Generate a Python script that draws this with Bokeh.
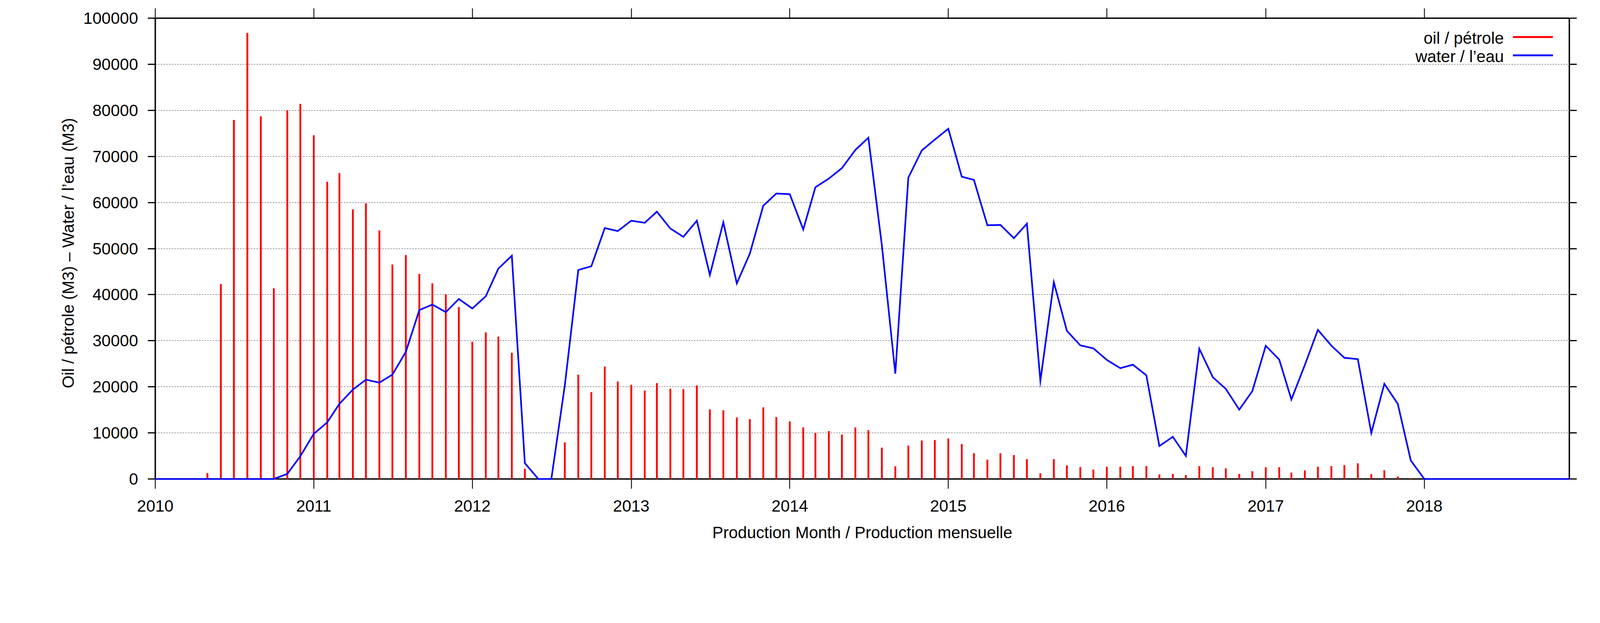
import pandas as pd
from bokeh.plotting import figure
from bokeh.models import (ColumnDataSource, DatetimeAxis, LinearAxis, FixedTicker,
                          DatetimeTickFormatter, NumeralTickFormatter, SingleIntervalTicker,
                          Range1d, Label, BoxAnnotation, CustomJSTickFormatter)
from bokeh.embed import file_html
from bokeh.resources import INLINE

# ---------------- data ----------------
months = list(pd.date_range("2010-01-01", "2018-12-01", freq="MS"))

oil_2010 = [0, 0, 0, 0, 1300, 42300, 77900, 96800, 78700, 41400, 80000, 81400]
oil_2011 = [74600, 64500, 66400, 58500, 59800, 53950, 46550, 48600, 44500, 42450, 40100, 37300]
oil_2012 = [29800, 31800, 30900, 27400, 2200, 0, 0, 7950, 22650, 18850, 24400, 21150]
oil_2013 = [20450, 19200, 20800, 19600, 19500, 20300, 15100, 14900, 13350, 13000, 15550, 13450]
oil_2014 = [12500, 11200, 10000, 10400, 9650, 11200, 10600, 6800, 2750, 7250, 8350, 8450]
oil_2015 = [8800, 7600, 5600, 4200, 5600, 5200, 4300, 1250, 4300, 2950, 2600, 2050]
oil_2016 = [2650, 2650, 2800, 2800, 1000, 1100, 850, 2800, 2550, 2300, 1100, 1700]
oil_2017 = [2550, 2550, 1400, 1850, 2650, 2800, 3000, 3400, 1050, 1900, 550, 150]
oil_2018 = [0, 0, 0, 0, 0, 0, 0, 0, 0, 0, 0, 0]

water_2010 = [0, 0, 0, 0, 0, 0, 0, 0, 0, 0, 1100, 4950]
water_2011 = [9800, 12300, 16300, 19400, 21550, 20900, 22650, 27600, 36650, 37850, 36200, 39050]
water_2012 = [37000, 39650, 45650, 48450, 3450, 0, 0, 20300, 45350, 46150, 54450, 53800]
water_2013 = [56050, 55600, 58000, 54350, 52550, 56050, 44300, 55700, 42450, 48900, 59300, 61950]
water_2014 = [61800, 54150, 63300, 65200, 67450, 71400, 74050, 50750, 22850, 65400, 71300, 73650]
water_2015 = [76000, 65600, 64900, 55050, 55150, 52250, 55400, 21300, 42700, 32150, 29000, 28350]
water_2016 = [25850, 24050, 24800, 22500, 7150, 9150, 5000, 28250, 22100, 19550, 15050, 19050]
water_2017 = [28900, 25900, 17250, 24750, 32350, 28950, 26300, 26000, 10000, 20650, 16300, 4000]
water_2018 = [0, 0, 0, 0, 0, 0, 0, 0, 0, 0, 0, 0]

oil = (oil_2010 + oil_2011 + oil_2012 + oil_2013 + oil_2014 + oil_2015 +
       oil_2016 + oil_2017 + oil_2018)
water = (water_2010 + water_2011 + water_2012 + water_2013 + water_2014 + water_2015 +
         water_2016 + water_2017 + water_2018)

year_ticks = list(range(2010, 2019))
legend_labels = ["oil / pétrole", "water / l\u2019eau"]
x_title = "Production Month / Production mensuelle"
y_title = "Oil / pétrole (M3)  \u2013  Water / l\u2019eau (M3)"

# ---------------- style ----------------
SX = 4096 / 5483    # horizontal CSS px per reference pixel (vertical is 1:1)


def hx(v):
    return int(round(v * SX))


FONT = "Liberation Sans"
FS = "42px"
RED = "#ff0000"
BLUE = "#0000ff"

x_start = pd.Timestamp("2010-01-01")
x_end = pd.Timestamp("2018-12-01")
x0_ms = x_start.value / 1e6
x1_ms = x_end.value / 1e6
y_max = 100000

p = figure(frame_width=hx(4846), frame_height=1179, x_axis_type="datetime",
           x_range=Range1d(x_start, x_end), y_range=Range1d(0, y_max),
           output_backend="svg", toolbar_location=None,
           min_border_left=hx(531.5), min_border_top=46, min_border_right=55,
           min_border_bottom=340,
           background_fill_color="white", border_fill_color="white")
p.outline_line_color = None

year_ms = [pd.Timestamp(f"{y}-01-01").value / 1e6 for y in year_ticks]
yticker = SingleIntervalTicker(interval=10000)

bottom = p.below[0]
left = p.left[0]
bottom.ticker = FixedTicker(ticks=year_ms)
bottom.formatter = DatetimeTickFormatter(days="%Y", months="%Y", years="%Y")
left.ticker = yticker
left.formatter = NumeralTickFormatter(format="0")

top = DatetimeAxis(ticker=FixedTicker(ticks=year_ms),
                   formatter=CustomJSTickFormatter(code="return ''"))
right = LinearAxis(ticker=SingleIntervalTicker(interval=10000),
                   formatter=CustomJSTickFormatter(code="return ''"))
p.add_layout(top, "above")
p.add_layout(right, "right")

for ax in (bottom, left, top, right):
    ax.axis_line_width = 3.6
    ax.axis_line_color = "black"
    ax.major_tick_in = 0
    ax.major_tick_line_color = "black"
    ax.minor_tick_line_color = None
    ax.major_label_text_font = FONT
    ax.major_label_text_color = "black"
    ax.axis_label_text_font = FONT
    ax.axis_label_text_font_size = FS
    ax.axis_label_text_font_style = "normal"
    ax.axis_label_text_color = "black"

for ax in (bottom, top):
    ax.major_tick_out = 25
    ax.major_tick_line_width = 2.2
for ax in (left, right):
    ax.major_tick_out = hx(25)
    ax.major_tick_line_width = 2.8

for ax in (bottom, left):
    ax.major_label_text_font_size = FS
for ax in (top, right):
    ax.major_label_text_font_size = "1px"
    ax.major_label_standoff = 0

bottom.major_label_standoff = 29
left.major_label_standoff = 25
bottom.axis_label = x_title
bottom.axis_label_standoff = 27
left.axis_label = y_title
left.axis_label_standoff = 12

p.xgrid.visible = False
p.ygrid.ticker = yticker
p.ygrid.grid_line_color = "black"
p.ygrid.grid_line_width = 1
p.ygrid.grid_line_alpha = 0.75
p.ygrid.grid_line_dash = "4 3"

src = ColumnDataSource(dict(month=months, oil=oil, water=water))
bars = p.segment(x0="month", y0=0, x1="month", y1="oil", source=src,
                 line_color=RED, line_width=4.6)
line = p.line(x="month", y="water", source=src, line_color=BLUE, line_width=4.2,
              line_join="miter")
bars.level = "overlay"
line.level = "overlay"

# ---------------- legend (text left, sample line right) ----------------
def fx(frac):
    return x0_ms + frac * (x1_ms - x0_ms)


text_right = fx(0.9537)
swatch_l = fx(0.9601)
swatch_r = fx(0.9884)
legend_text_y = [95680, 91690]
legend_line_y = [95900, 91930]
half = 210
for lab, ty, ly, col in zip(legend_labels, legend_text_y, legend_line_y, [RED, BLUE]):
    p.add_layout(Label(x=text_right, y=ty, text=lab, text_align="right",
                       text_baseline="alphabetic", text_font=FONT,
                       text_font_size=FS, text_color="black"))
    p.add_layout(BoxAnnotation(left=swatch_l, right=swatch_r, bottom=ly - half,
                               top=ly + half, fill_color=col, fill_alpha=1.0,
                               line_color=None, level="overlay"))

with open("out.html", "w", encoding="utf-8") as f:
    f.write(file_html(p, INLINE))
